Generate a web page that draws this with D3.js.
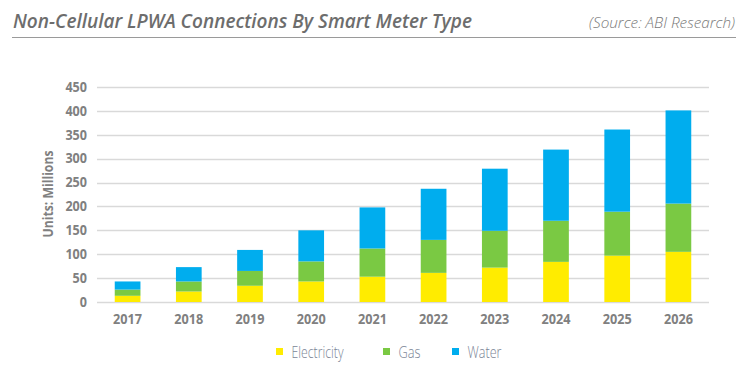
<!DOCTYPE html>
<html lang="en">
<head>
<meta charset="UTF-8">
<title>Non-Cellular LPWA Connections</title>
<script src="https://cdn.jsdelivr.net/npm/d3@7/dist/d3.min.js"></script>
<style>
  body { margin: 0; background: #fff; }
  svg { display: block; font-family: "Open Sans", sans-serif; }
</style>
</head>
<body>
<svg width="747" height="374"></svg>
<script>
// Data (millions of units)
const years = ["2017","2018","2019","2020","2021","2022","2023","2024","2025","2026"];
const electricity = [13, 22, 34, 43, 53, 61, 72, 84, 97, 105];
const gas = [13, 21, 31, 42, 59, 69, 77, 86, 92, 101];
const water = [17, 30, 44, 65, 86, 107, 130, 149, 172, 195];
const seriesNames = ["Electricity", "Gas", "Water"];
const yTicks = [0, 50, 100, 150, 200, 250, 300, 350, 400, 450];

const colors = {Electricity: "#ffec00", Gas: "#7ac943", Water: "#00adee"};
const grey = "#808080";

const svg = d3.select("svg");

// Title + source
svg.append("text")
    .attr("x", 13).attr("y", 28)
    .attr("font-size", 20).attr("font-weight", 600).attr("font-style", "italic")
    .attr("fill", "#6d6d6d")
    .attr("textLength", 459).attr("lengthAdjust", "spacingAndGlyphs")
    .text("Non-Cellular LPWA Connections By Smart Meter Type");

svg.append("text")
    .attr("x", 735).attr("y", 28)
    .attr("text-anchor", "end")
    .attr("font-size", 15).attr("font-weight", 300).attr("font-style", "italic")
    .attr("fill", "#7a7a7a")
    .attr("textLength", 146).attr("lengthAdjust", "spacingAndGlyphs")
    .text("(Source: ABI Research)");

svg.append("line")
    .attr("x1", 12).attr("x2", 736).attr("y1", 37.5).attr("y2", 37.5)
    .attr("stroke", "#9a9a9a").attr("stroke-width", 1);

// Scales
const x = d3.scaleBand().domain(years).range([97, 709]).paddingInner(0.58).paddingOuter(0.29);
const y = d3.scaleLinear().domain([0, 450]).range([302, 87]);

// Gridlines
svg.append("g")
    .selectAll("line")
    .data(yTicks)
    .join("line")
    .attr("x1", 97).attr("x2", 709)
    .attr("y1", d => Math.round(y(d)) + 0.5).attr("y2", d => Math.round(y(d)) + 0.5)
    .attr("stroke", "#d9d9d9").attr("stroke-width", 1.5);

// Stacked bars
const table = years.map((yr, i) => ({year: yr, Electricity: electricity[i], Gas: gas[i], Water: water[i]}));
const stacked = d3.stack().keys(seriesNames)(table);

svg.append("g")
    .selectAll("g")
    .data(stacked)
    .join("g")
    .attr("fill", d => colors[d.key])
    .selectAll("rect")
    .data(d => d)
    .join("rect")
    .attr("x", d => x(d.data.year))
    .attr("width", x.bandwidth())
    .attr("y", d => y(d[1]))
    .attr("height", d => y(d[0]) - y(d[1]));

// Y axis (condensed bold labels)
const yAxis = svg.append("g")
    .attr("transform", "translate(87,0)")
    .call(d3.axisLeft(y).tickValues(yTicks).tickSize(0).tickPadding(0));
yAxis.select(".domain").remove();
yAxis.selectAll("text")
    .attr("font-family", "Open Sans, sans-serif")
    .attr("font-size", 13.5).attr("font-weight", 700)
    .attr("fill", grey)
    .attr("textLength", d => String(d).length * 7.2)
    .attr("lengthAdjust", "spacingAndGlyphs");

// X axis
const xAxis = svg.append("g")
    .attr("transform", "translate(0,302)")
    .call(d3.axisBottom(x).tickSize(0).tickPadding(12));
xAxis.select(".domain").remove();
xAxis.selectAll("text")
    .attr("font-family", "Open Sans, sans-serif")
    .attr("font-size", 14).attr("font-weight", 700)
    .attr("fill", grey)
    .attr("textLength", 29)
    .attr("lengthAdjust", "spacingAndGlyphs");

// Y axis title
svg.append("text")
    .attr("transform", "translate(53,194) rotate(-90)")
    .attr("text-anchor", "middle")
    .attr("font-size", 14).attr("font-weight", 700)
    .attr("fill", grey)
    .attr("textLength", 87).attr("lengthAdjust", "spacingAndGlyphs")
    .text("Units: Millions");

// Legend
const legendX = [276, 383, 452];
const legendW = {Electricity: 52, Gas: 22, Water: 34};
const legend = svg.append("g")
    .selectAll("g")
    .data(seriesNames)
    .join("g")
    .attr("transform", (d, i) => `translate(${legendX[i]},348)`);

legend.append("rect")
    .attr("width", 7).attr("height", 7)
    .attr("fill", d => colors[d]);

legend.append("text")
    .attr("x", 15.5).attr("y", 10)
    .attr("font-size", 17).attr("font-weight", 300)
    .attr("fill", "#7b8596")
    .attr("textLength", d => legendW[d])
    .attr("lengthAdjust", "spacingAndGlyphs")
    .text(d => d);
</script>
</body>
</html>
